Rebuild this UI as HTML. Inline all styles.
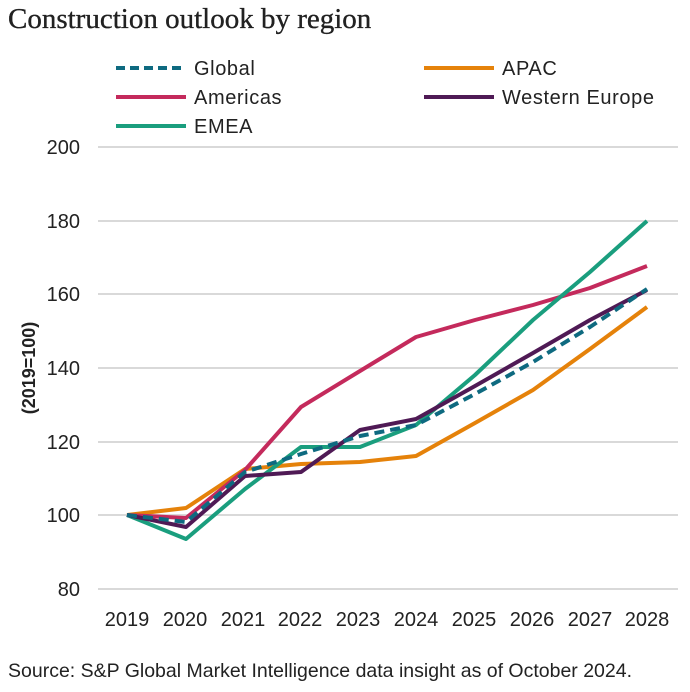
<!DOCTYPE html>
<html><head><meta charset="utf-8"><style>
body{margin:0;background:#fff;width:690px;height:687px;overflow:hidden}
svg text{font-family:"Liberation Sans",sans-serif;fill:#222}
</style></head><body>
<svg width="690" height="687" viewBox="0 0 690 687">
<text x="8" y="28" style="font-family:'Liberation Serif',serif;font-size:29px" fill="#111" stroke="#111" stroke-width="0.3">Construction outlook by region</text>
<g stroke-width="4" fill="none">
<line x1="116" y1="68" x2="186" y2="68" stroke="#0e6a80" stroke-dasharray="9,5"/>
<line x1="116" y1="97" x2="186" y2="97" stroke="#c42a5c"/>
<line x1="116" y1="126" x2="186" y2="126" stroke="#1a9e7e"/>
<line x1="424" y1="68" x2="494" y2="68" stroke="#e5820a"/>
<line x1="424" y1="97" x2="494" y2="97" stroke="#4f1a55"/>
</g>
<g font-size="20" letter-spacing="0.6">
<text x="194" y="75">Global</text>
<text x="194" y="104">Americas</text>
<text x="194" y="133">EMEA</text>
<text x="502" y="75">APAC</text>
<text x="502" y="104">Western Europe</text>
</g>
<g stroke="#d9d9d9" stroke-width="2">
<line x1="98" y1="147" x2="678" y2="147"/>
<line x1="98" y1="221" x2="678" y2="221"/>
<line x1="98" y1="294" x2="678" y2="294"/>
<line x1="98" y1="368" x2="678" y2="368"/>
<line x1="98" y1="442" x2="678" y2="442"/>
<line x1="98" y1="515" x2="678" y2="515"/>
<line x1="98" y1="589" x2="678" y2="589"/>
</g>
<g font-size="20" text-anchor="end">
<text x="80" y="154">200</text><text x="80" y="228">180</text><text x="80" y="301">160</text>
<text x="80" y="375">140</text><text x="80" y="449">120</text><text x="80" y="522">100</text><text x="80" y="596">80</text>
</g>
<text transform="translate(35,368) rotate(-90)" font-size="18" font-weight="bold" text-anchor="middle" fill="#111">(2019=100)</text>
<g font-size="20" text-anchor="middle">
<text x="127" y="626">2019</text><text x="185" y="626">2020</text><text x="243" y="626">2021</text><text x="300" y="626">2022</text><text x="358" y="626">2023</text><text x="416" y="626">2024</text><text x="474" y="626">2025</text><text x="532" y="626">2026</text><text x="590" y="626">2027</text><text x="647" y="626">2028</text>
</g>
<g fill="none" stroke-width="4" stroke-linejoin="round">
<polyline stroke="#e5820a" points="127,515 186,508 245,469 301,464 360,462 416,456 475,423 533,390 590,349 647,307"/>
<polyline stroke="#c42a5c" points="127,515 186,518 245,470 301,407 360,371 416,337 475,320 533,305 590,288 647,266"/>
<polyline stroke="#1a9e7e" points="127,515 186,539 245,489 301,447 360,447 416,425 475,375 533,320 590,272 647,221"/>
<polyline stroke="#4f1a55" points="127,515 186,527 245,476 301,472 360,430 416,419 475,386 533,353 590,320 647,290"/>
<polyline stroke="#0e6a80" stroke-dasharray="10,6" points="127,515 186,522 245,472 301,454 360,436 416,425 475,394 533,362 590,327 647,289"/>
</g>
<text x="8" y="677" font-size="19.5">Source: S&amp;P Global Market Intelligence data insight as of October 2024.</text>
</svg>
</body></html>
